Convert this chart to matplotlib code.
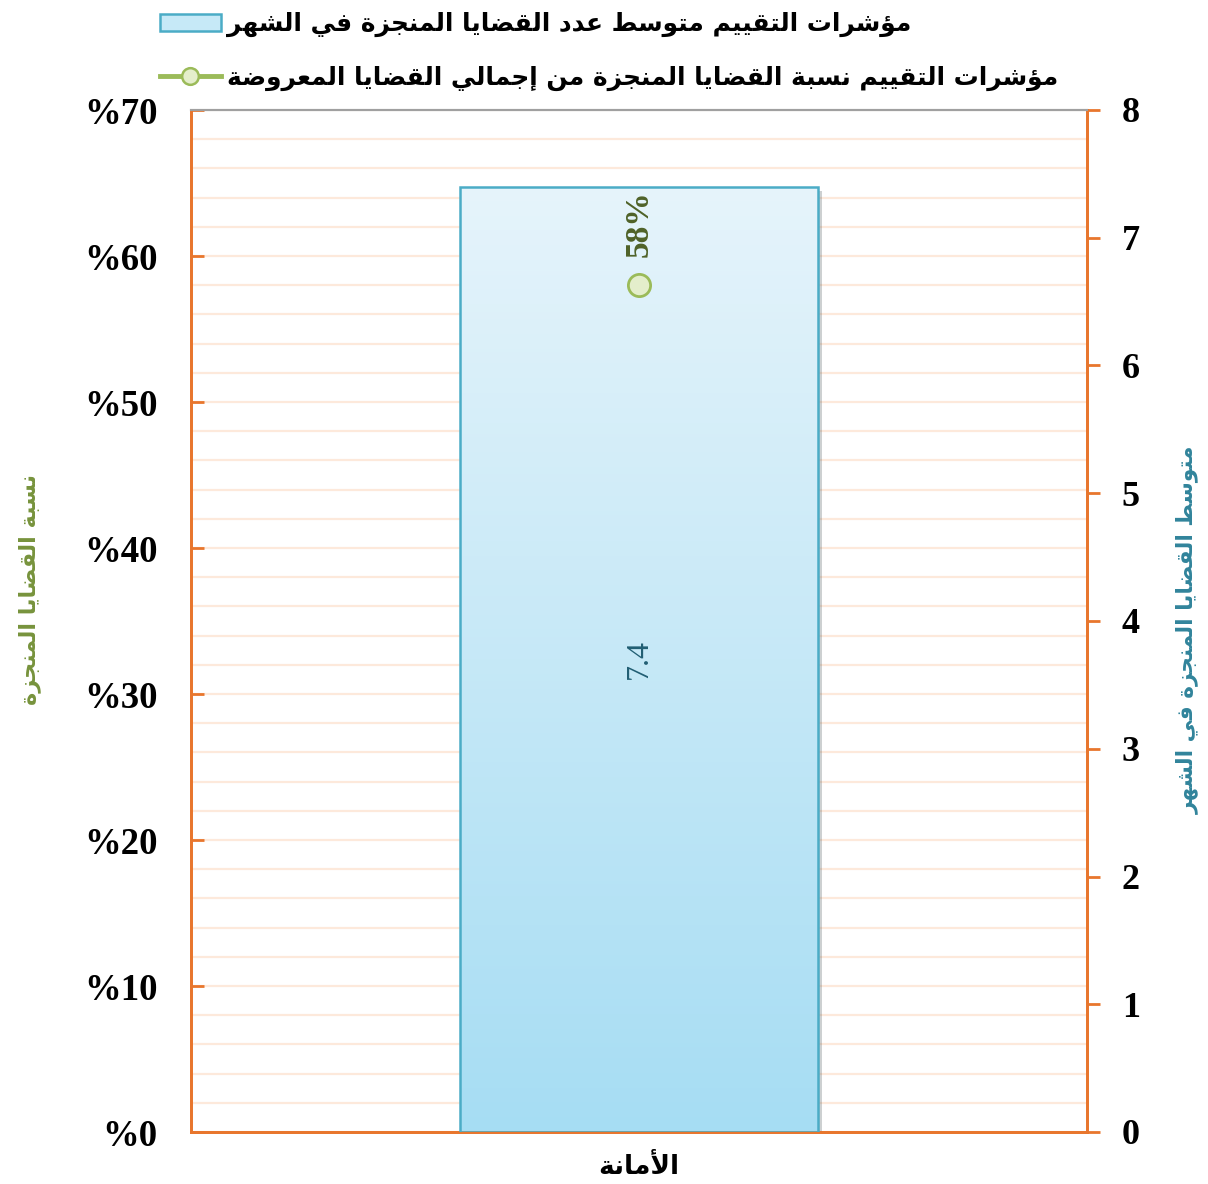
import numpy as np
import matplotlib
matplotlib.use("Agg")
import matplotlib.pyplot as plt
from matplotlib.ticker import MultipleLocator, FuncFormatter
from matplotlib.colors import LinearSegmentedColormap
from matplotlib.lines import Line2D
import matplotlib.patheffects as pe

# data
categories = ["الأمانة"]
avg_done = [7.4]          # right axis: average cases completed per month
pct_done = [58]           # left axis: % of completed out of presented
bar_name = "مؤشرات التقييم متوسط عدد القضايا المنجزة في الشهر"
line_name = "مؤشرات التقييم نسبة القضايا المنجزة من إجمالي القضايا المعروضة"
left_title = "نسبة القضايا المنجزة"
right_title = "متوسط القضايا المنجزة في الشهر"

# minimal arabic shaping (presentation forms) + visual reorder
FORMS = {
    'ا': ('\uFE8D', '\uFE8E', None, None),
    'أ': ('\uFE83', '\uFE84', None, None),
    'إ': ('\uFE87', '\uFE88', None, None),
    'آ': ('\uFE81', '\uFE82', None, None),
    'ؤ': ('\uFE85', '\uFE86', None, None),
    'ب': ('\uFE8F', '\uFE90', '\uFE91', '\uFE92'),
    'ة': ('\uFE93', '\uFE94', None, None),
    'ت': ('\uFE95', '\uFE96', '\uFE97', '\uFE98'),
    'ج': ('\uFE9D', '\uFE9E', '\uFE9F', '\uFEA0'),
    'د': ('\uFEA9', '\uFEAA', None, None),
    'ر': ('\uFEAD', '\uFEAE', None, None),
    'ز': ('\uFEAF', '\uFEB0', None, None),
    'س': ('\uFEB1', '\uFEB2', '\uFEB3', '\uFEB4'),
    'ش': ('\uFEB5', '\uFEB6', '\uFEB7', '\uFEB8'),
    'ض': ('\uFEBD', '\uFEBE', '\uFEBF', '\uFEC0'),
    'ط': ('\uFEC1', '\uFEC2', '\uFEC3', '\uFEC4'),
    'ع': ('\uFEC9', '\uFECA', '\uFECB', '\uFECC'),
    'ف': ('\uFED1', '\uFED2', '\uFED3', '\uFED4'),
    'ق': ('\uFED5', '\uFED6', '\uFED7', '\uFED8'),
    'ل': ('\uFEDD', '\uFEDE', '\uFEDF', '\uFEE0'),
    'م': ('\uFEE1', '\uFEE2', '\uFEE3', '\uFEE4'),
    'ن': ('\uFEE5', '\uFEE6', '\uFEE7', '\uFEE8'),
    'ه': ('\uFEE9', '\uFEEA', '\uFEEB', '\uFEEC'),
    'و': ('\uFEED', '\uFEEE', None, None),
    'ي': ('\uFEF1', '\uFEF2', '\uFEF3', '\uFEF4'),
}
LAM_ALEF = {'ا': ('\uFEFB', '\uFEFC'), 'أ': ('\uFEF7', '\uFEF8'),
            'إ': ('\uFEF9', '\uFEFA'), 'آ': ('\uFEF5', '\uFEF6')}


def ar(text):
    toks = []
    i = 0
    while i < len(text):
        c = text[i]
        if c == 'ل' and i + 1 < len(text) and text[i + 1] in LAM_ALEF:
            toks.append(('LA', text[i + 1]))
            i += 2
        else:
            toks.append(c)
            i += 1

    def joins_next(t):
        return isinstance(t, str) and t in FORMS and FORMS[t][2] is not None

    def is_ar(t):
        return isinstance(t, tuple) or t in FORMS

    out = []
    for k, t in enumerate(toks):
        prev = toks[k - 1] if k > 0 else None
        nxt = toks[k + 1] if k + 1 < len(toks) else None
        jp = prev is not None and joins_next(prev)
        if isinstance(t, tuple):
            out.append(LAM_ALEF[t[1]][1 if jp else 0])
        elif t in FORMS:
            iso, fin, ini, med = FORMS[t]
            jn = ini is not None and nxt is not None and is_ar(nxt)
            if jp and jn:
                out.append(med)
            elif jp:
                out.append(fin)
            elif jn:
                out.append(ini)
            else:
                out.append(iso)
        else:
            out.append(t)
    return ''.join(reversed(out))


ORANGE = '#E8762D'
GRID = '#FDE9DB'
TEAL = '#4BACC6'
GREEN = '#9BBB59'
SERIF = 'Liberation Serif'
ARFONT = 'DejaVu Sans'

fig = plt.figure(figsize=(12.08, 11.84), dpi=100)
ax = fig.add_axes([191 / 1208, 1 - 1132 / 1184, (1087 - 191) / 1208, (1132 - 110) / 1184])
ax2 = ax.twinx()

x = np.arange(len(categories))

# left axis (percent) holds the grid
ax.set_ylim(0, 70)
ax.set_xlim(-0.5, 0.5)
ax.yaxis.set_major_locator(MultipleLocator(10))
ax.yaxis.set_minor_locator(MultipleLocator(2))
ax.yaxis.set_major_formatter(FuncFormatter(lambda v, p: f"%{v:.0f}"))
ax.grid(True, which='both', axis='y', color=GRID, lw=1.6)
ax.set_axisbelow(True)
ax.tick_params(axis='y', which='major', direction='in', length=9, width=2,
               color=ORANGE, labelsize=26.5, pad=24)
ax.tick_params(axis='y', which='minor', length=0)
for lab in ax.get_yticklabels():
    lab.set_fontfamily(SERIF)
    lab.set_fontweight('bold')
ax.set_xticks(x)
ax.set_xticklabels([ar(c) for c in categories], fontfamily=ARFONT,
                   fontweight='bold', fontsize=19)
ax.tick_params(axis='x', length=0, pad=16)

# right axis (count) holds the bar
ax2.set_ylim(0, 8)
ax2.yaxis.set_major_locator(MultipleLocator(1))
ax2.tick_params(axis='y', direction='out', length=9, width=2, color=ORANGE,
                labelsize=26, pad=16)
for lab in ax2.get_yticklabels():
    lab.set_fontfamily(SERIF)
    lab.set_fontweight('bold')

bars = ax2.bar(x, avg_done, width=0.4, color='#C6E9F7', edgecolor='none', zorder=1)
b = bars[0]
b.set_path_effects([pe.SimplePatchShadow(offset=(3, -3), alpha=0.25), pe.Normal()])
cmap = LinearSegmentedColormap.from_list('blu', ['#A6DDF3', '#E6F4FB'])
grad = np.linspace(0, 1, 256).reshape(-1, 1)
im = ax2.imshow(grad, extent=[b.get_x(), b.get_x() + b.get_width(), 0, b.get_height()],
                origin='lower', aspect='auto', cmap=cmap, zorder=2)
im.set_clip_path(b)
ax2.bar(x, avg_done, width=0.4, facecolor='none', edgecolor=TEAL, lw=1.8, zorder=3)
ax2.set_xlim(-0.5, 0.5)
ax2.set_ylim(0, 8)
for xi, v in zip(x, avg_done):
    ax2.text(xi, v / 2, f"{v}", rotation=90, ha='center', va='center',
             fontsize=23, fontfamily=SERIF, color='#215E73', zorder=5)

# percent point drawn above the bar, in left-axis coordinates
ln, = ax2.plot(x, pct_done, 'o', transform=ax.transData, ms=16, mfc='#E4EECB',
               mec=GREEN, mew=2, color=GREEN, lw=3, zorder=6)
for xi, v in zip(x, pct_done):
    ax2.annotate(f"{v}%", (xi, v), xycoords=ax.transData, xytext=(0, 44),
                 textcoords='offset points', rotation=90, ha='center', va='center',
                 fontsize=24, fontfamily=SERIF, fontweight='bold', color='#4F6228',
                 zorder=6)

# spines
for a in (ax, ax2):
    a.spines['left'].set_color(ORANGE)
    a.spines['right'].set_color(ORANGE)
    a.spines['bottom'].set_color(ORANGE)
    a.spines['top'].set_color('#A0A0A0')
    for s in ('left', 'right', 'bottom'):
        a.spines[s].set_linewidth(2)
    a.spines['top'].set_linewidth(1.5)

# axis titles
fig.text(30 / 1208, 1 - 590 / 1184, ar(left_title), rotation=90, ha='center', va='center',
         fontsize=16, fontfamily=ARFONT, fontweight='bold', color='#77933C')
fig.text(1188 / 1208, 1 - 630 / 1184, ar(right_title), rotation=90, ha='center', va='center',
         fontsize=15.6, fontfamily=ARFONT, fontweight='bold', color='#31849B')

# legend
h_bar = plt.Rectangle((0, 0), 1, 1, facecolor='#C6E9F7', edgecolor=TEAL, lw=1.8)
h_line = Line2D([], [], color=GREEN, lw=3.5, marker='o', ms=12, mfc='#E4EECB',
                mec=GREEN, mew=1.8)
fig.legend([h_bar, h_line], [ar(bar_name), ar(line_name)], loc='upper left',
           bbox_to_anchor=(160 / 1208, 1 - 12 / 1184), frameon=False,
           prop={'family': ARFONT, 'weight': 'bold', 'size': 17.9},
           handlelength=2.45, handleheight=0.65, handletextpad=0.25, labelspacing=1.15,
           borderpad=0, borderaxespad=0)

fig.savefig("out.png", dpi=100)
